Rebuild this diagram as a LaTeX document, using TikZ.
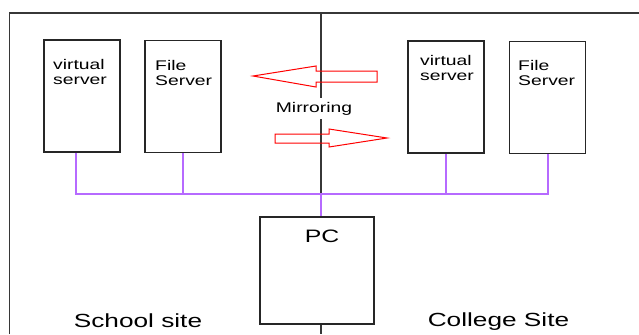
\documentclass[tikz,border=0pt]{standalone}
\usepackage{fontspec}
\setmainfont{Liberation Sans}[FakeStretch=1.38]
\usetikzlibrary{calc}

\definecolor{buspurple}{RGB}{182,106,255}
\definecolor{framegray}{RGB}{55,55,55}

\tikzstyle{server}=[rectangle,draw=black!85,line width=1.6bp,minimum width=76bp,minimum height=112bp,inner sep=0pt]
\tikzstyle{boxtext}=[anchor=north west,inner sep=0pt,align=left,font=\fontsize{14bp}{15.5bp}\selectfont]
\tikzstyle{site}=[anchor=base,inner sep=0pt,font=\fontsize{19bp}{22bp}\selectfont]
\tikzstyle{bus}=[draw=buspurple,line width=2bp]
\tikzstyle{divider}=[draw=framegray,line width=1.6bp]
\tikzstyle{mirrorarrow}=[draw=red,line width=1bp,line join=miter]

\begin{document}
\begin{tikzpicture}[x=1bp,y=-1bp]
	\useasboundingbox (0,0) rectangle (639,334);
	% frame
	\draw[divider,line join=miter] (9.5,334) -- (9.5,13) -- (639,13);
	\coordinate (frametop) at (321,13);
	\coordinate (framebot) at (321,334);
	\coordinate (busjoin) at (321,194);

	% School site
	\node[server] (vs1) at (82,96) {};
	\node[server] (fs1) at (183,96.5) {};
	\node[boxtext] (vs1txt) at (53,59) {virtual\\server};
	\node[boxtext] (fs1txt) at (155,60) {File\\Server};

	% College site
	\node[server] (vs2) at (446,97) {};
	\node[server] (fs2) at (547.5,97.5) {};
	\node[boxtext] (vs2txt) at (420,55) {virtual\\server};
	\node[boxtext] (fs2txt) at (518,60) {File\\Server};

	\node[server,minimum width=114bp,minimum height=107bp] (pc) at (317,270.5) {};
	\node[inner sep=0pt,font=\fontsize{18bp}{20bp}\selectfont] (pctxt) at (322,236.5) {PC};

	\node[inner sep=0pt,minimum height=21bp,font=\fontsize{14bp}{16bp}\selectfont] (mirror) at (314,108.5) {Mirroring};

	% dividing line
	\draw[divider] (frametop) -- (frametop |- mirror.north);
	\draw[divider] (frametop |- mirror.south) -- (busjoin);
	\draw[divider] (framebot |- pc.south) -- (framebot);

	% network
	\coordinate (vs1drop) at ($(vs1.south)+(-6,0)$);
	\draw[bus] (vs1drop) |- (busjoin) -| (fs2.south);
	\draw[bus] (fs1.south) -- (fs1.south |- busjoin);
	\draw[bus] (vs2.south) -- (vs2.south |- busjoin);
	\draw[bus] (busjoin) -- (busjoin |- pc.north);

	% mirroring arrows
	\draw[mirrorarrow] (253,76) -- (316,66) -- (316,71) -- (377,71) -- (377,82) -- (316,82) -- (316,87) -- cycle;
	\draw[mirrorarrow] (387,138) -- (329,129) -- (329,134) -- (275,134) -- (275,143) -- (329,143) -- (329,147) -- cycle;

	\node[site] (school) at (138,327) {School site};
	\node[site] (college) at (498.5,326) {College Site};
\end{tikzpicture}
\end{document}
